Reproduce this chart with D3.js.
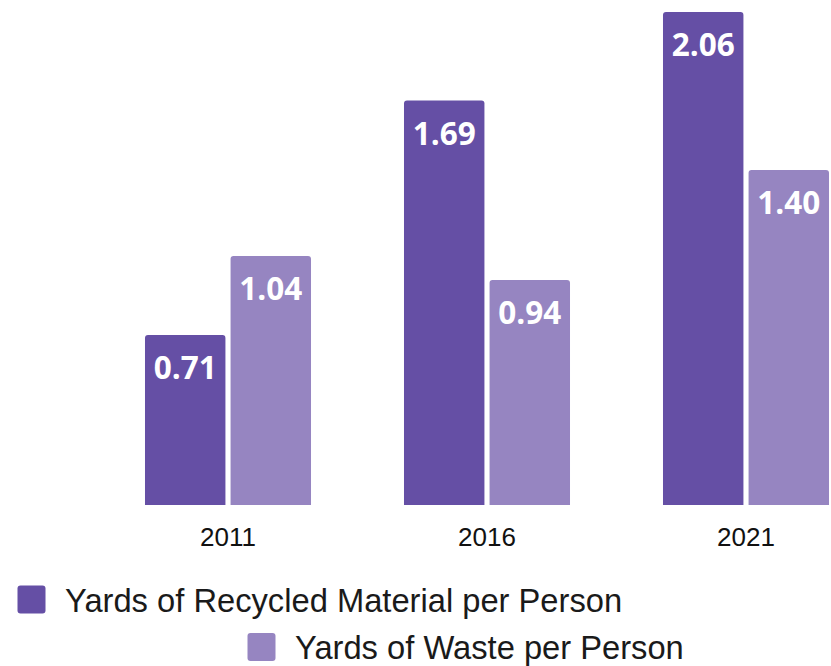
<!DOCTYPE html>
<html>
<head>
<meta charset="utf-8">
<script src="https://cdn.jsdelivr.net/npm/d3@7"></script>
<style>
  html, body { margin: 0; padding: 0; background: #ffffff; }
  svg { display: block; }
</style>
</head>
<body>
<svg id="chart" width="831" height="666"></svg>
<script>
const years = ["2011", "2016", "2021"];
const seriesNames = ["Yards of Recycled Material per Person", "Yards of Waste per Person"];
const recycled = [0.71, 1.69, 2.06];
const waste = [1.04, 0.94, 1.40];
const colors = ["#654fa5", "#9685c1"];

const svg = d3.select("#chart");

const baseY = 505;
const y = d3.scaleLinear().domain([0, 2.11]).range([baseY, 0]);
const x0 = d3.scaleBand().domain(years).range([98.5, 875.5]).paddingInner(0.359).paddingOuter(0.1795);
const x1 = d3.scaleBand().domain(seriesNames).range([0, x0.bandwidth()]).paddingInner(0.06).paddingOuter(0);

const rows = years.map((yr, i) => ({
  year: yr,
  values: [
    { key: seriesNames[0], value: recycled[i], color: colors[0] },
    { key: seriesNames[1], value: waste[i], color: colors[1] }
  ]
}));

function topRoundedRect(x, yTop, w, h, r) {
  return `M${x},${yTop + h}V${yTop + r}Q${x},${yTop} ${x + r},${yTop}H${x + w - r}Q${x + w},${yTop} ${x + w},${yTop + r}V${yTop + h}Z`;
}

const groups = svg.append("g").selectAll("g.grp")
  .data(rows).join("g")
  .attr("class", "grp")
  .attr("transform", d => `translate(${x0(d.year)},0)`);

groups.selectAll("path.bar")
  .data(d => d.values).join("path")
  .attr("class", "bar")
  .attr("fill", d => d.color)
  .attr("d", d => topRoundedRect(x1(d.key), y(d.value), x1.bandwidth(), baseY - y(d.value), 3));

groups.selectAll("text.val")
  .data(d => d.values).join("text")
  .attr("class", "val")
  .attr("x", d => x1(d.key) + x1.bandwidth() / 2)
  .attr("y", d => y(d.value) + 44)
  .attr("text-anchor", "middle")
  .attr("fill", "#ffffff")
  .attr("font-family", "'Open Sans', sans-serif")
  .attr("font-weight", "bold")
  .attr("font-size", 31.5)
  .text(d => d.value.toFixed(2));

// x axis
const xAxis = d3.axisBottom(x0).tickSize(0).tickPadding(0);
const ax = svg.append("g").attr("transform", `translate(0,${baseY})`).call(xAxis);
ax.select(".domain").remove();
ax.selectAll("text")
  .attr("dy", null)
  .attr("y", 41)
  .attr("fill", "#111111")
  .attr("font-family", "'Liberation Sans', Arial, sans-serif")
  .attr("font-size", 26);

// legend
const legendItems = [
  { name: seriesNames[0], color: colors[0], sx: 17.5, cy: 599.5 },
  { name: seriesNames[1], color: colors[1], sx: 247.5, cy: 647 }
];
const lg = svg.append("g").selectAll("g").data(legendItems).join("g");
lg.append("rect")
  .attr("x", d => d.sx)
  .attr("y", d => d.cy - 14)
  .attr("width", 28).attr("height", 28)
  .attr("rx", 3).attr("ry", 3)
  .attr("fill", d => d.color);
lg.append("text")
  .attr("x", d => d.sx + 47.5)
  .attr("y", d => d.cy + 12)
  .attr("fill", "#1a1a1a")
  .attr("font-family", "'Liberation Sans', Arial, sans-serif")
  .attr("font-size", 32.7)
  .text(d => d.name);
</script>
</body>
</html>
